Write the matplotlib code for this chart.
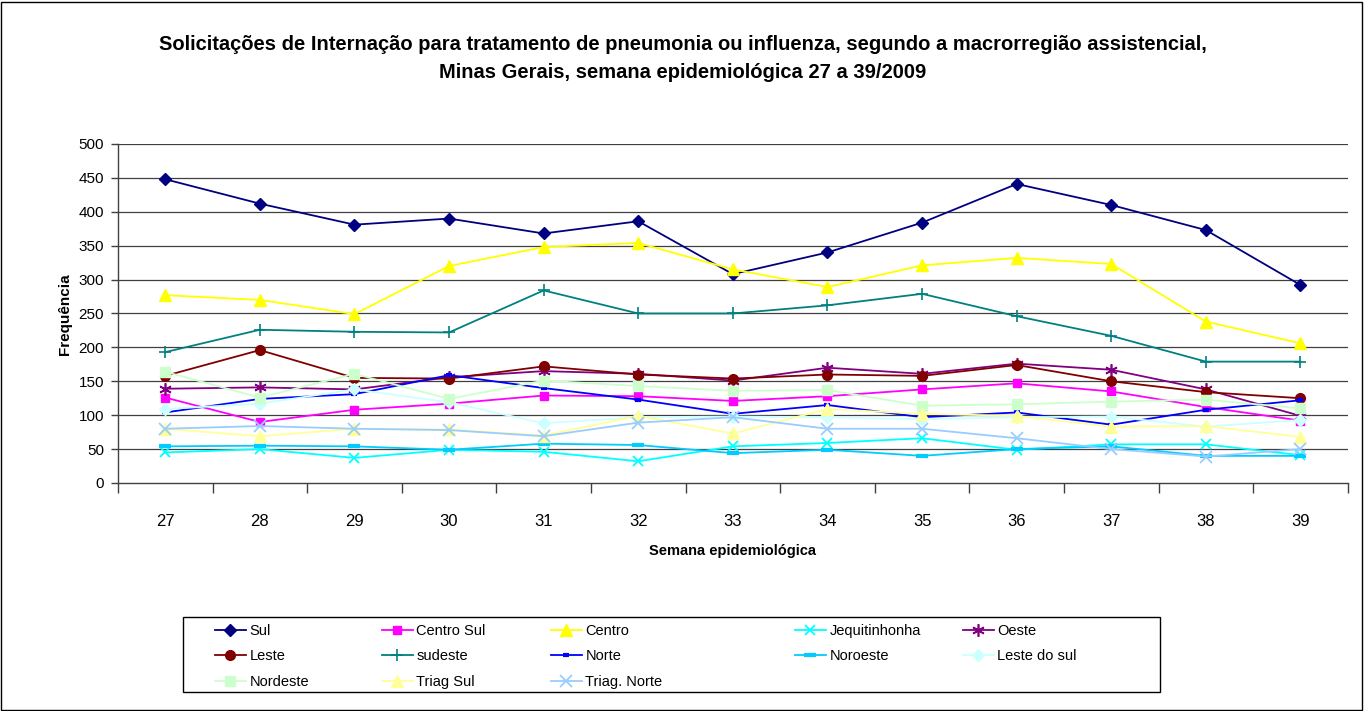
import matplotlib
matplotlib.use('Agg')
import matplotlib.pyplot as plt
import matplotlib.patches as patches

plt.rcParams['font.family'] = ['Liberation Sans', 'DejaVu Sans']

# weeks and requests per macro-region
weeks = [27, 28, 29, 30, 31, 32, 33, 34, 35, 36, 37, 38, 39]
sul = [448, 412, 381, 390, 368, 386, 308, 340, 384, 441, 410, 373, 292]
centro_sul = [126, 90, 108, 117, 129, 128, 121, 128, 138, 147, 135, 112, 92]
centro = [277, 270, 249, 320, 348, 354, 315, 289, 321, 332, 323, 238, 206]
jequitinhonha = [45, 50, 37, 49, 46, 32, 54, 59, 66, 49, 57, 57, 41]
oeste = [139, 141, 138, 156, 165, 161, 151, 170, 161, 176, 167, 138, 99]
leste = [158, 196, 155, 154, 172, 160, 154, 160, 158, 174, 150, 134, 125]
sudeste = [193, 226, 223, 222, 284, 250, 250, 262, 279, 246, 217, 179, 179]
norte = [104, 124, 131, 159, 140, 123, 102, 115, 97, 104, 86, 108, 122]
noroeste = [54, 55, 54, 49, 58, 56, 44, 49, 40, 50, 54, 40, 40]
leste_do_sul = [109, 117, 138, 119, 88, 97, 98, 97, 94, 97, 98, 83, 93]
nordeste = [164, 126, 161, 124, 151, 143, 136, 137, 114, 116, 120, 123, 110]
triag_sul = [80, 69, 80, 79, 70, 99, 73, 109, 102, 99, 83, 84, 68]
triag_norte = [80, 84, 80, 78, 69, 89, 97, 80, 80, 66, 50, 39, 50]

# (label, values, colour, marker, markersize, markeredgewidth)
series = [
    ("Sul", sul, "#000080", "D", 6, 1),
    ("Centro Sul", centro_sul, "#FF00FF", "s", 6, 1),
    ("Centro", centro, "#FFFF00", "^", 8, 1),
    ("Jequitinhonha", jequitinhonha, "#00FFFF", "x", 7, 1.3),
    ("Oeste", oeste, "#800080", (6, 2, 0), 9, 1.2),
    ("Leste", leste, "#800000", "o", 7, 1),
    ("sudeste", sudeste, "#008080", "+", 9, 1.2),
    ("Norte", norte, "#0000FF", "_", 5, 3),
    ("Noroeste", noroeste, "#00CCFF", "_", 8, 3),
    ("Leste do sul", leste_do_sul, "#CCFFFF", "D", 6, 1),
    ("Nordeste", nordeste, "#CCFFCC", "s", 7, 1),
    ("Triag Sul", triag_sul, "#FFFF99", "^", 8, 1),
    ("Triag. Norte", triag_norte, "#99CCFF", "x", 8, 1.3),
]

fig = plt.figure(figsize=(13.65, 7.11), dpi=100)
ax = fig.add_axes([0.0864, 0.3207, 0.901, 0.4768])

handles = {}
for label, vals, col, mk, ms, mew in series:
    ln, = ax.plot(weeks, vals, color=col, lw=1.3, marker=mk, markersize=ms,
                  markeredgewidth=mew, markerfacecolor=col, markeredgecolor=col,
                  label=label)
    handles[label] = ln

ax.set_xlim(26.5, 39.5)
ax.set_ylim(0, 500)
ax.set_yticks(range(0, 501, 50))
for v in range(50, 501, 50):
    ax.axhline(v, color='#404040', lw=0.9, zorder=0)

# category boundaries get tick marks, labels sit at category centres
ax.set_xticks([w - 0.5 for w in weeks] + [39.5])
ax.set_xticklabels([])
ax.set_xticks(weeks, minor=True)
ax.set_xticklabels([str(w) for w in weeks], minor=True, fontsize=12)
ax.tick_params(axis='x', which='major', length=7, width=1, color='#404040')
ax.tick_params(axis='x', which='minor', length=0, pad=22)
ax.tick_params(axis='y', length=5, width=1, color='#404040', labelsize=11, pad=5)

for s in ['top', 'right']:
    ax.spines[s].set_visible(False)
for s in ['left', 'bottom']:
    ax.spines[s].set_color('#404040')
    ax.spines[s].set_linewidth(1)

ax.set_xlabel("Semana epidemiológica", fontsize=10.5, fontweight='bold', labelpad=11)
fig.text(65 / 1365, 1 - 314 / 711, "Frequência", rotation=90, ha='center', va='center',
         fontsize=11, fontweight='bold')

fig.text(0.5, 1 - 44 / 711, "Solicitações de Internação para tratamento de pneumonia ou influenza, segundo a macrorregião assistencial,",
         ha='center', va='center', fontsize=14.5, fontweight='bold')
fig.text(0.5, 1 - 72 / 711, "Minas Gerais, semana epidemiológica 27 a 39/2009",
         ha='center', va='center', fontsize=14.5, fontweight='bold')

# legend: one legend per column, inside a single frame
columns = [
    ["Sul", "Leste", "Nordeste"],
    ["Centro Sul", "sudeste", "Triag Sul"],
    ["Centro", "Norte", "Triag. Norte"],
    ["Jequitinhonha", "Noroeste"],
    ["Oeste", "Leste do sul"],
]
col_x = [215, 382, 551, 795, 963]
for names, x in zip(columns, col_x):
    leg = fig.legend([handles[n] for n in names], names, loc='upper left',
                     bbox_to_anchor=(x / 1365, (711 - 624) / 711), frameon=False,
                     borderpad=0, borderaxespad=0, handlelength=2.1, handletextpad=0.25,
                     labelspacing=0.78, fontsize=10.5, numpoints=1)

fig.patches.append(patches.Rectangle((183 / 1365, 19 / 711), (1160 - 183) / 1365, 75 / 711,
                                     transform=fig.transFigure, fill=False,
                                     edgecolor='black', lw=1))
fig.patches.append(patches.Rectangle((0.001, 0.002), 0.997, 0.995,
                                     transform=fig.transFigure, fill=False,
                                     edgecolor='black', lw=1))

fig.savefig("out.png", dpi=100)
